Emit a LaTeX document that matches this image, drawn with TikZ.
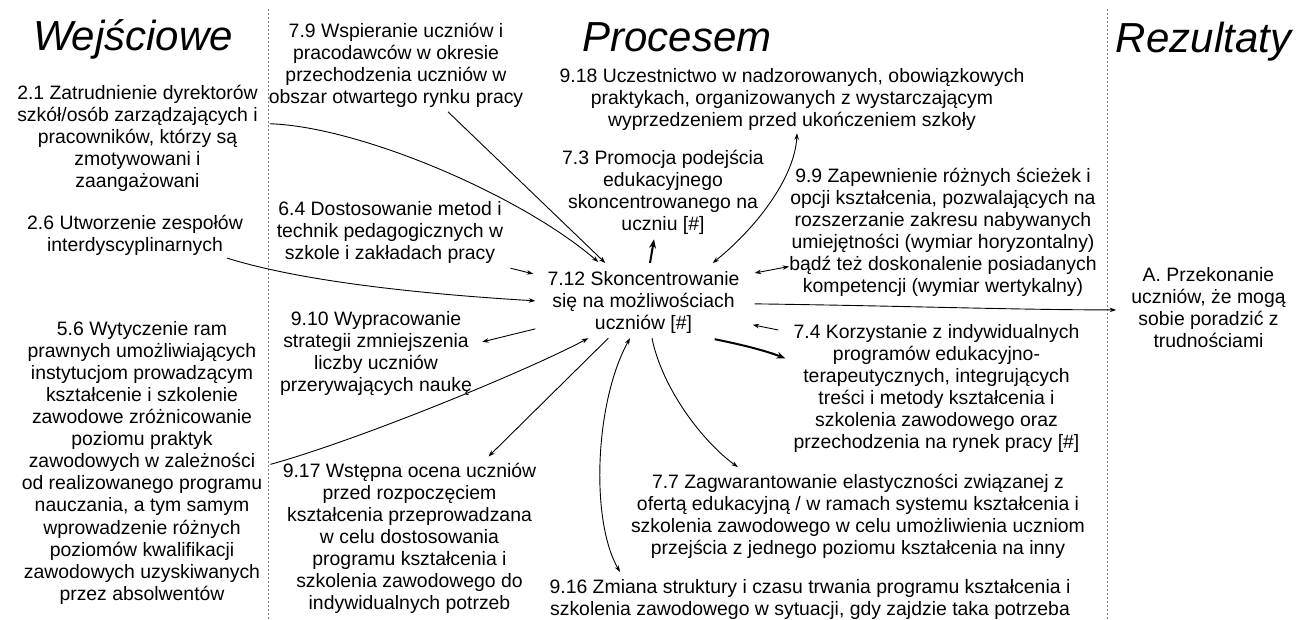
\documentclass[tikz,border=0pt]{standalone}
\usepackage{fontspec}
\setmainfont{Liberation Sans}
\usetikzlibrary{arrows.meta,calc}
\begin{document}
\begin{tikzpicture}[x=1pt,y=-1pt,
  txt/.style={font=\fontsize{19.4}{22.1}\selectfont, align=center, inner sep=0pt, anchor=north, text=black},
  ttl/.style={font=\fontsize{42}{50}\selectfont\itshape, inner sep=0pt, anchor=base, text=black},
  conn/.style={line width=0.9pt, -{Stealth[length=6.5pt,width=4.5pt]}},
  biconn/.style={line width=0.9pt, {Stealth[length=6.5pt,width=4.5pt]}-{Stealth[length=6.5pt,width=4.5pt]}},
  heavy/.style={line width=2pt, -{Stealth[length=9pt,width=7pt]}},
  sep/.style={gray, line width=0.9pt, dash pattern=on 2pt off 2pt}]
\useasboundingbox (0,0) rectangle (1298,619);
\fill[white] (0,0) rectangle (1298,619);

% separators
\draw[sep] (268,9) -- (268,619);
\draw[sep] (1107,9) -- (1107,619);

% titles
\node[ttl] (tw) at (133,50) {Wejściowe};
\node[ttl] (tp) at (677,51) {Procesem};
\node[ttl] (tr) at (1203.5,52) {Rezultaty};

% nodes
\node[txt] (n79) at (396,22) {\strut 7.9 Wspieranie uczniów i\\pracodawców w okresie\\przechodzenia uczniów w\\obszar otwartego rynku pracy\strut};
\node[txt] (n21) at (137.5,83.8) {\strut 2.1 Zatrudnienie dyrektorów\\szkół/osób zarządzających i\\pracowników, którzy są\\zmotywowani i\\zaangażowani\strut};
\node[txt] (n26) at (135,213.5) {\strut 2.6 Utworzenie zespołów\\interdyscyplinarnych\strut};
\node[txt] (n64) at (390,199.5) {\strut 6.4 Dostosowanie metod i\\technik pedagogicznych w\\szkole i zakładach pracy\strut};
\node[txt] (n56) at (142,319.5) {\strut 5.6 Wytyczenie ram\\prawnych umożliwiających\\instytucjom prowadzącym\\kształcenie i szkolenie\\zawodowe zróżnicowanie\\poziomu praktyk\\zawodowych w zależności\\od realizowanego programu\\nauczania, a tym samym\\wprowadzenie różnych\\poziomów kwalifikacji\\zawodowych uzyskiwanych\\przez absolwentów\strut};
\node[txt] (n910) at (376,309.5) {\strut 9.10 Wypracowanie\\strategii zmniejszenia\\liczby uczniów\\przerywających naukę\strut};
\node[txt] (n917) at (409.5,461.5) {\strut 9.17 Wstępna ocena uczniów\\przed rozpoczęciem\\kształcenia przeprowadzana\\w celu dostosowania\\programu kształcenia i\\szkolenia zawodowego do\\indywidualnych potrzeb\strut};
\node[txt] (n918) at (792,66.5) {\strut 9.18 Uczestnictwo w nadzorowanych, obowiązkowych\\praktykach, organizowanych z wystarczającym\\wyprzedzeniem przed ukończeniem szkoły\strut};
\node[txt] (n73) at (663,148.5) {\strut 7.3 Promocja podejścia\\edukacyjnego\\skoncentrowanego na\\uczniu [\#]\strut};
\node[txt] (n99) at (943,166.5) {\strut 9.9 Zapewnienie różnych ścieżek i\\opcji kształcenia, pozwalających na\\rozszerzanie zakresu nabywanych\\umiejętności (wymiar horyzontalny)\\bądź też doskonalenie posiadanych\\kompetencji (wymiar wertykalny)\strut};
\node[txt] (n712) at (643.5,269.5) {\strut 7.12 Skoncentrowanie\\się na możliwościach\\uczniów [\#]\strut};
\node[txt] (n74) at (936.5,322.5) {\strut 7.4 Korzystanie z indywidualnych\\programów edukacyjno-\\terapeutycznych, integrujących\\treści i metody kształcenia i\\szkolenia zawodowego oraz\\przechodzenia na rynek pracy [\#]\strut};
\node[txt] (n77) at (858,472.5) {\strut 7.7 Zagwarantowanie elastyczności związanej z\\ofertą edukacyjną / w ramach systemu kształcenia i\\szkolenia zawodowego w celu umożliwienia uczniom\\przejścia z jednego poziomu kształcenia na inny\strut};
\node[txt] (n916) at (810,577.5) {\strut 9.16 Zmiana struktury i czasu trwania programu kształcenia i\\szkolenia zawodowego w sytuacji, gdy zajdzie taka potrzeba\strut};
\node[txt] (nA) at (1208.5,265.5) {\strut A. Przekonanie\\uczniów, że mogą\\sobie poradzić z\\trudnościami\strut};

% connectors
\draw[conn] ($(n21.east)+(12,-15.5)$) .. controls +(90,3) and +(-78,-67) .. ($(n712.north west)+(51,-7.5)$);
\draw[conn] ($(n79.south)+(52,1)$) -- ($(n712.north west)+(58,-6.5)$);
\draw[conn] ($(n64.south east)+(7,2)$) -- ($(n712.west)+(-14,-29)$);
\draw[conn] ($(n26.south east)+(-16,0)$) .. controls +(80,25) and +(-100,-6) .. ($(n712.west)+(-12,-2)$);
\draw[heavy] ($(n712.north)+(6.5,-6.5)$) -- ($(n73.south)+(-9,2)$);
\draw[biconn] ($(n712.north east)+(-27,-6.5)$) .. controls +(47,-38) and +(-2,42) .. ($(n918.south)+(5,0)$);
\draw[biconn] ($(n712.north east)+(15,3.5)$) -- ($(n99.south west)+(0,-33)$);
\draw[conn] ($(n712.east)+(15,1)$) .. controls +(150,2) and +(-100,0) .. ($(nA.west)+(-15,0)$);
\draw[conn] ($(n74.north west)+(-15,7.5)$) -- ($(n712.east)+(13,22)$);
\draw[heavy] ($(n712.south east)+(-25,3)$) .. controls +(25,5) and +(-20,-8) .. ($(n74.north west)+(-8,36)$);
\draw[conn] ($(n712.west)+(-12,26)$) -- ($(n910.east)+(10,-12)$);
\draw[conn] ($(n56.east)+(8,1)$) .. controls +(90,-25) and +(-60,32) .. ($(n712.south west)+(41,2)$);
\draw[conn] ($(n712.south west)+(61,2)$) -- ($(n917.north)+(79,-5)$);
\draw[biconn] ($(n712.south)+(-13.5,2)$) .. controls +(-35,63) and +(-30,-52) .. ($(n916.north)+(-190,-5.5)$);
\draw[conn] ($(n712.south)+(8.5,2)$) .. controls +(10,50) and +(-35,-25) .. ($(n77.north west)+(107,-5.5)$);
\end{tikzpicture}
\end{document}
